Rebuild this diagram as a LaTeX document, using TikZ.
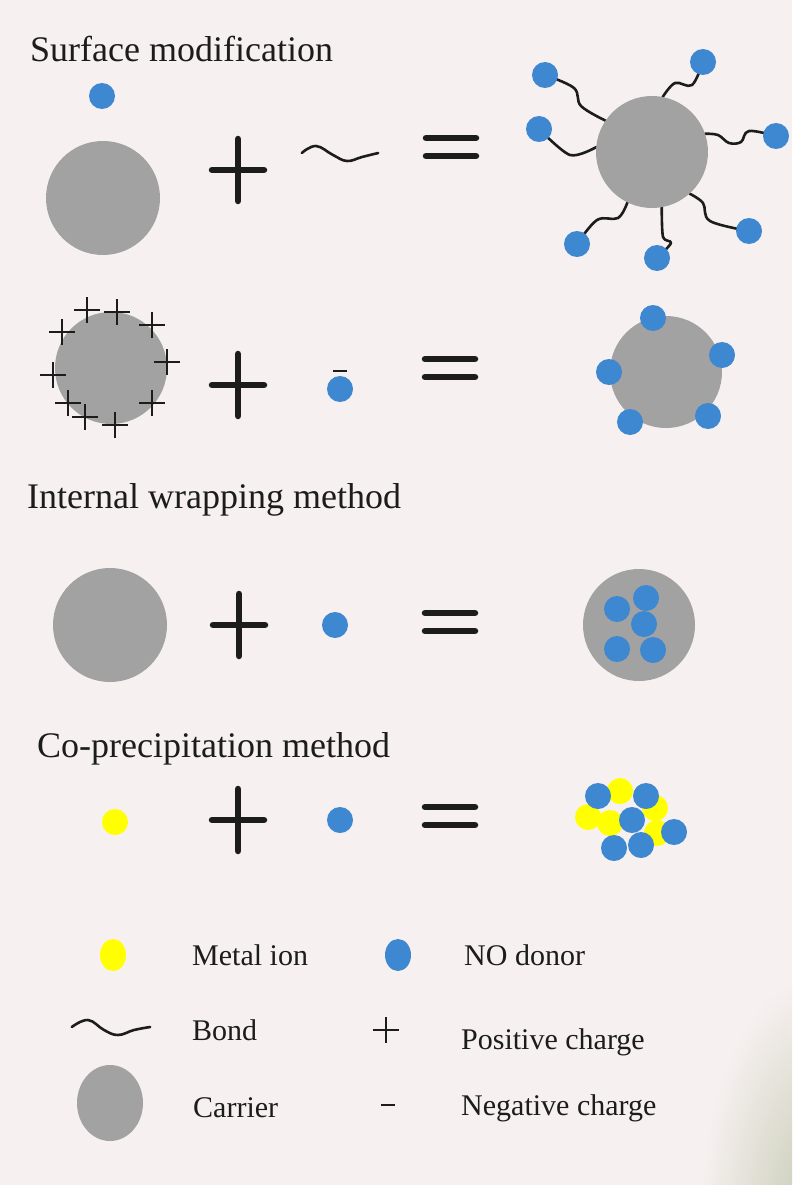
\documentclass[tikz,border=0pt]{standalone}
\usepackage{fontspec}
\setmainfont{Liberation Serif}
\usetikzlibrary{shapes.geometric}
\definecolor{bgc}{HTML}{F7F0F0}
\definecolor{carrierc}{HTML}{A2A2A2}
\definecolor{donorc}{HTML}{3D88D0}
\definecolor{metalc}{HTML}{FFFF00}
\definecolor{inkc}{HTML}{1C1C1C}
\definecolor{shadowc}{HTML}{C6CBB4}
\pgfdeclarelayer{bgl}
\pgfdeclarelayer{bonds}
\pgfsetlayers{bgl,bonds,main}
\begin{document}
\begin{tikzpicture}[x=1pt,y=-1pt,
  carrier/.style={circle, fill=carrierc, inner sep=0, outer sep=0, minimum size=#1},
  donor/.style={circle, fill=donorc, inner sep=0, outer sep=0, minimum size=26},
  metal/.style={circle, fill=metalc, inner sep=0, outer sep=0, minimum size=26},
  legdot/.style={ellipse, fill=#1, inner sep=0, outer sep=0, minimum width=26, minimum height=32},
  title/.style={anchor=base west, inner sep=0, font=\fontsize{36}{40}\selectfont, text=inkc},
  legtext/.style={anchor=base west, inner sep=0, font=\fontsize{30}{34}\selectfont, text=inkc},
  bigop/.style={line width=6.5, draw=inkc, line cap=round},
  bond/.style={draw=inkc, line width=2.6, line cap=round, line join=round},
  chgline/.style={draw=inkc, line width=2.2},
  bigplus/.pic={\draw[bigop] (-26,0)--(26,0) (0,-31)--(0,31);},
  bigeq/.pic={\draw[bigop] (-25,-9)--(25,-9) (-25,9)--(25,9);},
  chgplus/.pic={\draw[chgline] (-13,0)--(13,0) (0,-13)--(0,13);},
  chgminus/.pic={\draw[chgline] (-7,0)--(7,0);}
]
\useasboundingbox (0,0) rectangle (792,1185);
\begin{pgfonlayer}{bgl}
  \fill[bgc] (0,0) rectangle (792,1185);
  \begin{scope}
    \clip (0,0) rectangle (792,1185);
    \shade[inner color=shadowc, outer color=bgc] (815,1215) ellipse (115 and 240);
  \end{scope}
\end{pgfonlayer}

% ---------- Titles ----------
\node[title] (t1) at (30,62) {Surface modification};
\node[title] (t2) at (27,508) {Internal wrapping method};
\node[title] (t3) at (37,757) {Co-precipitation method};

% ---------- Row 1 ----------
\node[donor] (r1d) at (102,96) {};
\node[carrier=114] (r1c) at (103,198) {};
\pic at (238,170) {bigplus};
\node[inner sep=0, minimum width=76, minimum height=20] (r1w) at (340,153) {};
\draw[bond] plot[smooth, tension=0.7] coordinates {(r1w.west) (316,146) (333,155) (347,161) (362,157) (r1w.east)};
\pic at (451,147) {bigeq};

\node[carrier=112] (sc) at (652,152) {};
\node[donor] (sa) at (545,75) {};
\node[donor] (sb) at (539,129) {};
\node[donor] (sd) at (703,62) {};
\node[donor] (se) at (776,136) {};
\node[donor] (sf) at (749,231) {};
\node[donor] (sg) at (657,258) {};
\node[donor] (sh) at (577,244) {};
\begin{pgfonlayer}{bonds}
  \draw[bond] plot[smooth, tension=0.6] coordinates {(sc.146) (581,106) (574,88) (sa.center)};
  \draw[bond] plot[smooth, tension=0.5] coordinates {(sc.175) (570,155) (sb.center)};
  \draw[bond] plot[smooth, tension=0.6] coordinates {(sc.79) (675,83) (692,85) (sd.center)};
  \draw[bond] plot[smooth, tension=0.6] coordinates {(sc.19) (718,135) (729,143) (741,142) (749,131) (se.center)};
  \draw[bond] plot[smooth, tension=0.6] coordinates {(sc.-48) (703,203) (710,221) (sf.center)};
  \draw[bond] plot[smooth, tension=0.5] coordinates {(sc.-80) (663,237) (671,243) (sg.center)};
  \draw[bond] plot[smooth, tension=0.6] coordinates {(sc.-116) (618,218) (597,220) (sh.center)};
\end{pgfonlayer}

% ---------- Row 2 ----------
\node[carrier=112] (r2c) at (111,368) {};
\foreach \x/\y in {87/310,117/312,152/325,62/332,167/362,53/375,68/403,152/403,85/417,115/425}
  \pic at (\x,\y) {chgplus};
\pic at (238,385) {bigplus};
\node[donor] (r2d) at (340,389) {};
\pic at (340,371) {chgminus};
\pic at (450,368) {bigeq};
\node[carrier=112] (r2p) at (666,372) {};
\node[donor] (r2a) at (653,318) {};
\node[donor] (r2b) at (722,355) {};
\node[donor] (r2e) at (609,372) {};
\node[donor] (r2f) at (630,422) {};
\node[donor] (r2g) at (708,416) {};

% ---------- Row 3 ----------
\node[carrier=114] (r3c) at (110,625) {};
\pic at (239,625) {bigplus};
\node[donor] (r3d) at (335,625) {};
\pic at (450,622) {bigeq};
\node[carrier=112] (r3p) at (639,625) {};
\node[donor] (r3a) at (617,609) {};
\node[donor] (r3b) at (646,598) {};
\node[donor] (r3e) at (644,624) {};
\node[donor] (r3f) at (617,649) {};
\node[donor] (r3g) at (653,650) {};

% ---------- Row 4 ----------
\node[metal] (r4m) at (115,822) {};
\pic at (238,820) {bigplus};
\node[donor] (r4d) at (340,820) {};
\pic at (450,816) {bigeq};
\node[metal] (y1) at (620,791) {};
\node[metal] (y2) at (588,817) {};
\node[metal] (y3) at (610,823) {};
\node[metal] (y4) at (655,808) {};
\node[metal] (y5) at (657,833) {};
\node[donor] (b1) at (598,796) {};
\node[donor] (b2) at (646,796) {};
\node[donor] (b3) at (632,820) {};
\node[donor] (b4) at (674,832) {};
\node[donor] (b5) at (614,848) {};
\node[donor] (b6) at (641,845) {};

% ---------- Legend ----------
\node[legdot=metalc] (lm) at (113,955) {};
\node[legtext] (lmt) at (192,965) {Metal ion};
\node[legdot=donorc] (ld) at (398,955) {};
\node[legtext] (ldt) at (464,965) {NO donor};
\node[inner sep=0, minimum width=78, minimum height=18] (lw) at (111,1027) {};
\draw[bond] plot[smooth, tension=0.7] coordinates {(lw.west) (88,1020) (104,1030) (118,1035) (134,1030) (lw.east)};
\node[legtext] (lbt) at (192,1040) {Bond};
\pic at (386,1030) {chgplus};
\node[legtext] (lpt) at (461,1049) {Positive charge};
\node[legdot=carrierc, minimum width=66, minimum height=76] (lc) at (110,1103) {};
\node[legtext] (lct) at (193,1117) {Carrier};
\pic at (388,1105) {chgminus};
\node[legtext] (lnt) at (461,1115) {Negative charge};
\end{tikzpicture}
\end{document}
